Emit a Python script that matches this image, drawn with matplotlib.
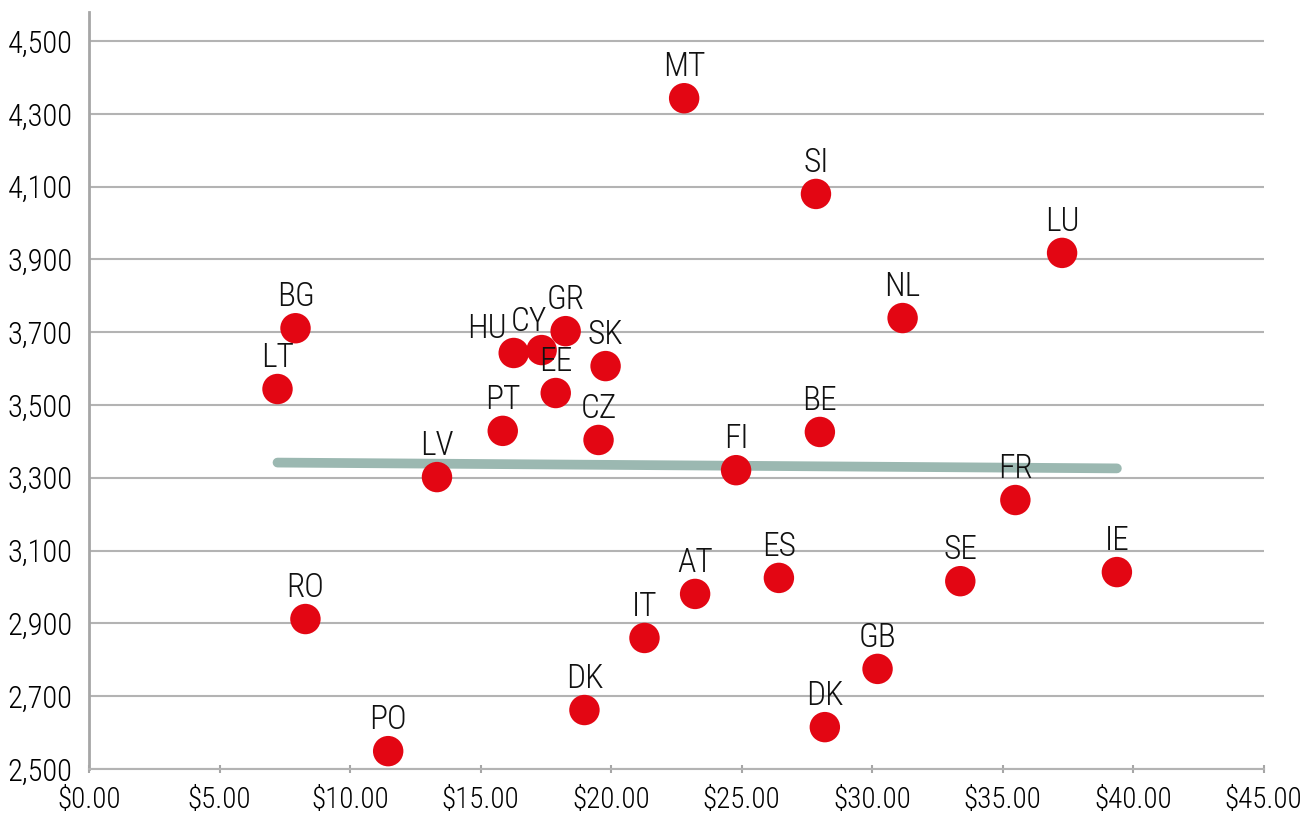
import matplotlib.pyplot as plt
import numpy as np

plt.rcParams['font.family'] = ['Roboto Condensed', 'Open Sans Condensed', 'Roboto', 'DejaVu Sans']

# data
countries = ["LT", "BG", "RO", "PO", "LV", "PT", "HU", "CY", "GR", "EE", "SK", "CZ", "DK",
             "IT", "AT", "MT", "FI", "ES", "SI", "BE", "DK", "GB", "NL", "SE", "FR", "LU", "IE"]
price = [7.22, 7.91, 8.29, 11.46, 13.33, 15.85, 16.27, 17.34, 18.26, 17.88, 19.79, 19.52, 18.98,
         21.28, 23.22, 22.80, 24.79, 26.43, 27.85, 28.00, 28.19, 30.21, 31.17, 33.38, 35.49, 37.28, 39.38]
value = [3544, 3711, 2912, 2549, 3302, 3429, 3643, 3651, 3703, 3533, 3607, 3404, 2662,
         2860, 2981, 4343, 3321, 3025, 4080, 3426, 2615, 2775, 3739, 3016, 3239, 3918, 3041]

# label nudges (points) for crowded labels
nudge = {"HU": (-19, 6), "CY": (-9, 9)}

fig, ax = plt.subplots(figsize=(13.04, 8.25), dpi=100)
fig.subplots_adjust(left=0.0683, right=0.9690, bottom=0.0679, top=0.9855)

# trend line
coef = np.polyfit(price, value, 1)
tx = np.array([min(price), max(price)])
ax.plot(tx, np.polyval(coef, tx), color='#9bb8b1', lw=7, solid_capstyle='round', zorder=2)

ax.scatter(price, value, s=480, color='#e30613', edgecolors='none', zorder=3)

for name, x, y in zip(countries, price, value):
    dx, dy = nudge.get(name, (0, 11))
    ax.annotate(name, (x, y), xytext=(dx, dy), textcoords='offset points',
                ha='center', va='bottom', fontsize=24, fontweight='light',
                color='#111111', zorder=4)

ax.set_xlim(0, 45)
ax.set_ylim(2500, 4580)
ax.set_xticks(np.arange(0, 46, 5))
ax.set_xticklabels(['$%.2f' % v for v in np.arange(0, 46, 5)])
ax.set_yticks(np.arange(2500, 4501, 200))
ax.set_yticklabels(['{:,}'.format(v) for v in range(2500, 4501, 200)])
for lab in ax.get_xticklabels() + ax.get_yticklabels():
    lab.set_fontweight('light')

ax.yaxis.grid(True, color='#b3b3b3', lw=1.5)
ax.set_axisbelow(True)
for s in ['top', 'right']:
    ax.spines[s].set_visible(False)
ax.spines['left'].set_color('#a6a6a6')
ax.spines['left'].set_linewidth(2)
ax.spines['bottom'].set_color('#b3b3b3')
ax.spines['bottom'].set_linewidth(1.5)
ax.tick_params(axis='y', length=0, pad=12, labelsize=22)
ax.tick_params(axis='x', direction='inout', length=6, width=1.5, color='#a6a6a6', pad=9, labelsize=21)

plt.savefig('out.png')
